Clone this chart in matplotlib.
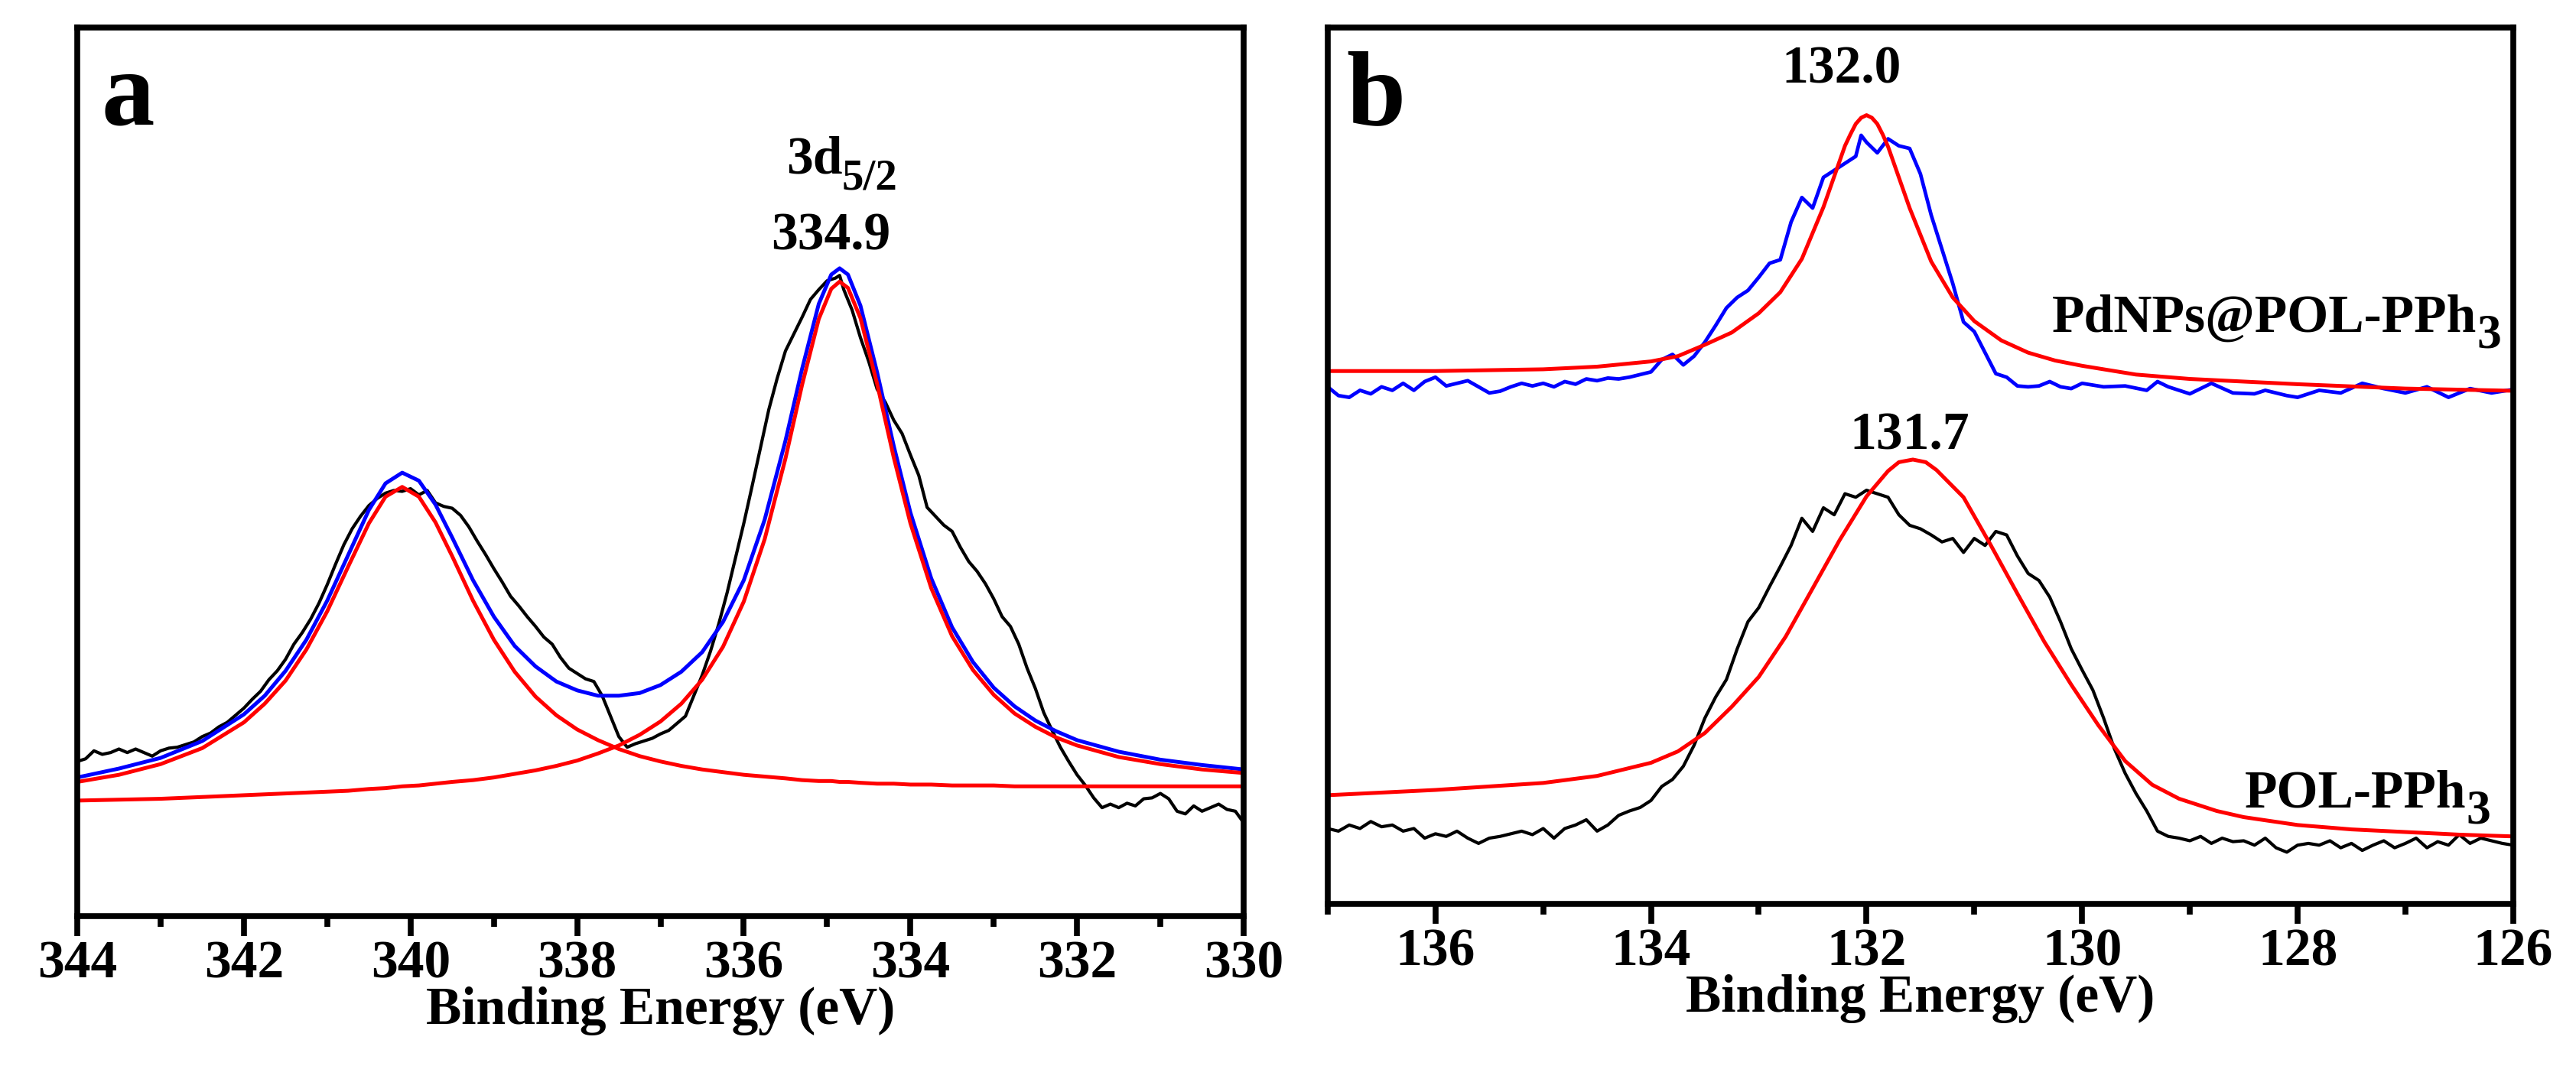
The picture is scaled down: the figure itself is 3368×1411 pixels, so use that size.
import matplotlib.pyplot as plt

plt.rcParams['font.family'] = ['Liberation Serif', 'DejaVu Serif']
plt.rcParams['font.weight'] = 'bold'

# ---- panel a: Pd 3d, raw spectrum ----
a_raw_x = [344.0, 343.9, 343.8, 343.7, 343.6, 343.5, 343.4, 343.3, 343.2, 343.1,
           343.0, 342.9, 342.8, 342.7, 342.6, 342.5, 342.4, 342.3, 342.2, 342.1,
           342.0, 341.9, 341.8, 341.7, 341.6, 341.5, 341.4, 341.3, 341.2, 341.1,
           341.0, 340.9, 340.8, 340.7, 340.6, 340.5, 340.4, 340.3, 340.2, 340.1,
           340.0, 339.9, 339.8, 339.7, 339.6, 339.5, 339.4, 339.3, 339.2, 339.1,
           339.0, 338.9, 338.8, 338.7, 338.6, 338.5, 338.4, 338.3, 338.2, 338.1,
           338.0, 337.9, 337.8, 337.7, 337.6, 337.5, 337.4, 337.3, 337.2, 337.1,
           337.0, 336.9, 336.8, 336.7, 336.6, 336.5, 336.4, 336.3, 336.2, 336.1,
           336.0, 335.9, 335.8, 335.7, 335.6, 335.5, 335.4, 335.3, 335.2, 335.1,
           335.0, 334.9, 334.85, 334.8, 334.7, 334.6, 334.5, 334.4, 334.3, 334.2,
           334.1, 334.0, 333.9, 333.8, 333.7, 333.6, 333.5, 333.4, 333.3, 333.2,
           333.1, 333.0, 332.9, 332.8, 332.7, 332.6, 332.5, 332.4, 332.3, 332.2,
           332.1, 332.0, 331.9, 331.8, 331.7, 331.6, 331.5, 331.4, 331.3, 331.2,
           331.1, 331.0, 330.9, 330.8, 330.7, 330.6, 330.5, 330.4, 330.3, 330.2,
           330.1, 330.0]
a_raw_y = [17.4, 17.7, 18.6, 18.2, 18.4, 18.8, 18.4, 18.8, 18.4, 18.0,
           18.6, 18.9, 19.0, 19.3, 19.6, 20.2, 20.6, 21.3, 21.8, 22.6,
           23.4, 24.4, 25.3, 26.6, 27.6, 28.9, 30.6, 31.9, 33.4, 35.2,
           37.3, 39.6, 41.8, 43.6, 45.0, 46.2, 47.0, 47.6, 47.9, 47.8,
           48.1, 47.4, 47.9, 46.5, 46.1, 45.9, 45.1, 43.8, 42.2, 40.7,
           39.1, 37.6, 36.0, 34.9, 33.7, 32.6, 31.4, 30.6, 29.1, 27.9,
           27.3, 26.7, 26.4, 24.8, 22.5, 20.2, 19.0, 19.4, 19.7, 20.0,
           20.5, 20.9, 21.7, 22.5, 24.8, 27.1, 29.8, 32.9, 36.4, 40.3,
           44.2, 48.4, 52.7, 57.0, 60.5, 63.6, 65.5, 67.4, 69.4, 70.5,
           71.5, 71.8, 72.1, 70.5, 68.2, 65.1, 62.4, 59.3, 57.8, 55.8,
           54.3, 51.9, 49.6, 46.0, 45.0, 44.0, 43.3, 41.5, 39.9, 38.8,
           37.4, 35.7, 33.7, 32.6, 30.6, 27.9, 25.6, 22.9, 20.9, 19.0,
           17.4, 15.9, 14.7, 13.3, 12.2, 12.6, 12.2, 12.7, 12.4, 13.2,
           13.3, 13.8, 13.2, 11.8, 11.5, 12.4, 11.8, 12.2, 12.6, 12.0,
           11.8, 10.5]

# fitted curves, panel a
a_fit_x = [344.0, 343.5, 343.0, 342.5, 342.0, 341.75, 341.5, 341.25, 341.0, 340.75,
           340.5, 340.3, 340.1, 339.9, 339.7, 339.5, 339.25, 339.0, 338.75, 338.5,
           338.25, 338.0, 337.75, 337.5, 337.25, 337.0, 336.75, 336.5, 336.25, 336.0,
           335.75, 335.5, 335.3, 335.1, 334.95, 334.85, 334.75, 334.6, 334.4, 334.2,
           334.0, 333.75, 333.5, 333.25, 333.0, 332.75, 332.5, 332.25, 332.0, 331.5,
           331.0, 330.5, 330.0]
a_peak1 = [15.1, 15.9, 17.1, 18.9, 21.8, 23.9, 26.5, 30.0, 34.3, 39.3,
           44.2, 47.2, 48.3, 47.2, 44.3, 40.5, 35.5, 31.1, 27.5, 24.7,
           22.6, 21.0, 19.8, 18.8, 18.0, 17.4, 16.9, 16.5, 16.2, 15.9,
           15.7, 15.5, 15.3, 15.2, 15.2, 15.1, 15.1, 15.0, 14.9, 14.9,
           14.8, 14.8, 14.7, 14.7, 14.7, 14.6, 14.6, 14.6, 14.6, 14.6,
           14.6, 14.6, 14.6]
a_peak2 = [13.0, 13.1, 13.2, 13.4, 13.6, 13.7, 13.8, 13.9, 14.0, 14.1,
           14.3, 14.4, 14.6, 14.7, 14.9, 15.1, 15.3, 15.6, 16.0, 16.4,
           16.9, 17.5, 18.3, 19.2, 20.4, 21.9, 23.9, 26.6, 30.3, 35.4,
           42.4, 51.5, 59.8, 67.2, 70.6, 71.4, 70.7, 67.3, 59.9, 51.6,
           44.2, 36.9, 31.5, 27.7, 24.9, 22.8, 21.3, 20.1, 19.2, 17.9,
           17.1, 16.5, 16.1]
a_envelope = [15.6, 16.6, 17.8, 19.7, 22.7, 24.8, 27.6, 31.1, 35.5, 40.6,
              45.7, 48.7, 49.9, 49.0, 46.3, 42.6, 37.8, 33.7, 30.4, 28.1,
              26.4, 25.4, 24.8, 24.8, 25.1, 26.0, 27.5, 29.7, 33.1, 37.8,
              44.6, 53.5, 61.6, 68.9, 72.2, 72.9, 72.2, 68.7, 61.2, 52.9,
              45.4, 38.0, 32.5, 28.6, 25.7, 23.6, 22.0, 20.8, 19.8, 18.5,
              17.6, 17.0, 16.5]

# ---- panel b: P 2p ----
b_top_x = [137.0, 136.9, 136.8, 136.7, 136.6, 136.5, 136.4, 136.3, 136.2, 136.1,
           136.0, 135.9, 135.8, 135.7, 135.6, 135.5, 135.4, 135.3, 135.2, 135.1,
           135.0, 134.9, 134.8, 134.7, 134.6, 134.5, 134.4, 134.3, 134.2, 134.1,
           134.0, 133.9, 133.8, 133.75, 133.7, 133.6, 133.5, 133.4, 133.3, 133.2,
           133.1, 133.0, 132.9, 132.8, 132.7, 132.6, 132.5, 132.4, 132.3, 132.2,
           132.1, 132.05, 132.0, 131.9, 131.8, 131.7, 131.6, 131.5, 131.4, 131.3,
           131.2, 131.1, 131.0, 130.9, 130.8, 130.7, 130.6, 130.5, 130.4, 130.3,
           130.2, 130.1, 130.0, 129.8, 129.6, 129.4, 129.3, 129.2, 129.0, 128.9,
           128.8, 128.6, 128.4, 128.3, 128.1, 128.0, 127.8, 127.6, 127.4, 127.2,
           127.0, 126.8, 126.6, 126.4, 126.2, 126.0]
b_top_y = [59.0, 58.0, 57.8, 58.6, 58.2, 59.0, 58.6, 59.4, 58.6, 59.6,
           60.1, 59.1, 59.4, 59.7, 59.0, 58.3, 58.5, 59.0, 59.4, 59.1,
           59.4, 59.0, 59.6, 59.3, 59.9, 59.7, 60.0, 59.9, 60.1, 60.4,
           60.7, 62.1, 62.7, 62.1, 61.5, 62.5, 64.1, 66.0, 68.0, 69.2,
           70.0, 71.5, 73.1, 73.5, 77.8, 80.6, 79.4, 82.9, 83.7, 84.5,
           85.3, 87.7, 86.9, 85.7, 87.3, 86.5, 86.2, 83.3, 78.6, 74.7,
           70.8, 66.4, 65.3, 62.9, 60.5, 60.1, 59.1, 59.0, 59.1, 59.6,
           59.0, 58.8, 59.4, 59.0, 59.1, 58.6, 59.6, 59.0, 58.2, 58.8,
           59.4, 58.3, 58.2, 58.6, 58.0, 57.8, 58.6, 58.3, 59.4, 58.8,
           58.3, 59.0, 57.8, 58.8, 58.3, 58.7]

b_top_fit_x = [137.0, 136.0, 135.0, 134.5, 134.0, 133.75, 133.5, 133.25, 133.0, 132.8,
               132.6, 132.4, 132.3, 132.2, 132.15, 132.1, 132.05, 132.0, 131.95, 131.9,
               131.85, 131.8, 131.7, 131.6, 131.4, 131.2, 131.0, 130.75, 130.5, 130.25,
               130.0, 129.5, 129.0, 128.0, 127.0, 126.0]
b_top_fit_y = [60.8, 60.8, 61.0, 61.3, 61.9, 62.5, 63.8, 65.2, 67.4, 69.8,
               73.6, 79.5, 83.0, 86.5, 87.8, 89.0, 89.7, 90.0, 89.7, 89.0,
               87.8, 86.4, 82.9, 79.4, 73.3, 69.2, 66.5, 64.3, 62.9, 62.0,
               61.4, 60.4, 59.9, 59.3, 58.8, 58.55]

b_bot_x = [137.0, 136.9, 136.8, 136.7, 136.6, 136.5, 136.4, 136.3, 136.2, 136.1,
           136.0, 135.9, 135.8, 135.7, 135.6, 135.5, 135.4, 135.3, 135.2, 135.1,
           135.0, 134.9, 134.8, 134.7, 134.6, 134.5, 134.4, 134.3, 134.2, 134.1,
           134.0, 133.9, 133.8, 133.7, 133.6, 133.5, 133.4, 133.3, 133.2, 133.1,
           133.0, 132.9, 132.8, 132.7, 132.6, 132.5, 132.4, 132.3, 132.2, 132.1,
           132.0, 131.9, 131.8, 131.7, 131.6, 131.5, 131.4, 131.3, 131.2, 131.1,
           131.0, 130.9, 130.8, 130.7, 130.6, 130.5, 130.4, 130.3, 130.2, 130.1,
           130.0, 129.9, 129.8, 129.7, 129.6, 129.5, 129.4, 129.3, 129.2, 129.1,
           129.0, 128.9, 128.8, 128.7, 128.6, 128.5, 128.4, 128.3, 128.2, 128.1,
           128.0, 127.9, 127.8, 127.7, 127.6, 127.5, 127.4, 127.3, 127.2, 127.1,
           127.0, 126.9, 126.8, 126.7, 126.6, 126.5, 126.4, 126.3, 126.2, 126.1,
           126.0]
b_bot_y = [8.6, 8.3, 9.0, 8.6, 9.4, 8.8, 9.0, 8.3, 8.6, 7.5,
           8.0, 7.7, 8.3, 7.5, 6.9, 7.5, 7.7, 8.0, 8.3, 7.9,
           8.6, 7.5, 8.6, 9.0, 9.6, 8.3, 9.0, 10.1, 10.6, 11.0,
           11.8, 13.4, 14.2, 15.7, 18.1, 21.2, 23.6, 25.6, 29.1, 32.2,
           33.8, 36.2, 38.5, 40.9, 44.0, 42.5, 45.2, 44.4, 46.8, 46.4,
           47.2, 46.8, 46.4, 44.4, 43.2, 42.8, 42.1, 41.3, 41.7, 40.1,
           41.7, 40.9, 42.5, 42.1, 39.7, 37.7, 36.9, 35.0, 32.2, 29.1,
           26.7, 24.4, 21.2, 17.7, 14.9, 12.6, 10.6, 8.3, 7.7, 7.5,
           7.2, 7.7, 6.9, 7.5, 7.1, 7.2, 6.7, 7.5, 6.4, 5.9,
           6.7, 6.9, 6.7, 7.2, 6.4, 6.9, 6.1, 6.7, 7.2, 6.4,
           6.9, 7.5, 6.4, 7.1, 6.7, 7.9, 6.9, 7.5, 7.2, 6.9,
           6.7]

b_bot_fit_x = [137.0, 136.5, 136.0, 135.5, 135.0, 134.5, 134.0, 133.75, 133.5, 133.25,
               133.0, 132.75, 132.5, 132.25, 132.0, 131.8, 131.7, 131.57, 131.45, 131.35,
               131.1, 130.85, 130.6, 130.35, 130.1, 129.85, 129.6, 129.35, 129.1, 128.75,
               128.5, 128.0, 127.5, 127.0, 126.5, 126.0]
b_bot_fit_y = [12.4, 12.7, 13.0, 13.4, 13.8, 14.6, 16.1, 17.4, 19.5, 22.5,
               25.9, 30.5, 36.0, 41.5, 46.5, 49.4, 50.4, 50.7, 50.4, 49.5,
               46.4, 41.0, 35.4, 29.9, 25.0, 20.4, 16.3, 13.6, 12.0, 10.6,
               9.9, 9.0, 8.5, 8.2, 7.9, 7.7]

a_ticks = [344, 342, 340, 338, 336, 334, 332, 330]
b_ticks = [136, 134, 132, 130, 128, 126]

fig = plt.figure(figsize=(33.68, 14.11), dpi=100)
ax1 = fig.add_axes([0.030, 0.151, 0.4528, 0.8235])
ax2 = fig.add_axes([0.5154, 0.1623, 0.4602, 0.8122])

# panel a
ax1.plot(a_raw_x, a_raw_y, color='black', linewidth=3.0)
ax1.plot(a_fit_x, a_envelope, color='blue', linewidth=3.6)
ax1.plot(a_fit_x, a_peak1, color='red', linewidth=3.6)
ax1.plot(a_fit_x, a_peak2, color='red', linewidth=3.6)
ax1.set_xlim(344, 330)
ax1.set_ylim(0, 100)
ax1.set_xticks(a_ticks)
ax1.set_xticks([343, 341, 339, 337, 335, 333, 331], minor=True)

ax1.text(343.71, 89.1, 'a', fontsize=100, fontweight='bold', ha='left', va='baseline')
ax1.text(335.49, 83.6, '3d', fontsize=50, fontweight='bold', ha='left', va='baseline')
ax1.annotate('5/2', xy=(335.49, 83.6), xytext=(52, -15), textcoords='offset points',
             fontsize=41, fontweight='bold', ha='left', va='baseline')
ax1.text(334.96, 75.0, '334.9', fontsize=50, fontweight='bold', ha='center', va='baseline')

# panel b
ax2.plot(b_top_x, b_top_y, color='blue', linewidth=3.4)
ax2.plot(b_top_fit_x, b_top_fit_y, color='red', linewidth=3.6)
ax2.plot(b_bot_x, b_bot_y, color='black', linewidth=3.0)
ax2.plot(b_bot_fit_x, b_bot_fit_y, color='red', linewidth=3.6)
ax2.set_xlim(137, 126)
ax2.set_ylim(0, 100)
ax2.set_xticks(b_ticks)
ax2.set_xticks([137, 135, 133, 131, 129, 127], minor=True)

ax2.text(136.83, 88.9, 'b', fontsize=100, fontweight='bold', ha='left', va='baseline')
ax2.text(132.23, 93.7, '132.0', fontsize=50, fontweight='bold', ha='center', va='baseline')
ax2.text(131.6, 51.9, '131.7', fontsize=50, fontweight='bold', ha='center', va='baseline')

# sample names with a large, lowered subscript 3
for xr, yb, name in [(126.11, 65.3, 'PdNPs@POL-PPh'), (126.21, 11.0, 'POL-PPh')]:
    ax2.annotate(name, xy=(xr, yb), xytext=(-23, 0), textcoords='offset points',
                 fontsize=50, fontweight='bold', ha='right', va='baseline')
    ax2.annotate('3', xy=(xr, yb), xytext=(0, -15), textcoords='offset points',
                 fontsize=46, fontweight='bold', ha='right', va='baseline')

for ax in (ax1, ax2):
    ax.set_yticks([])
    for s in ax.spines.values():
        s.set_linewidth(5.5)
    ax.tick_params(axis='x', which='major', direction='out', length=19, width=5.5,
                   labelsize=50, pad=4)
    ax.tick_params(axis='x', which='minor', direction='out', length=10, width=5.5)
    ax.set_xlabel('Binding Energy (eV)', fontsize=50, fontweight='bold', labelpad=-3)

fig.savefig('out.png', dpi=100)
